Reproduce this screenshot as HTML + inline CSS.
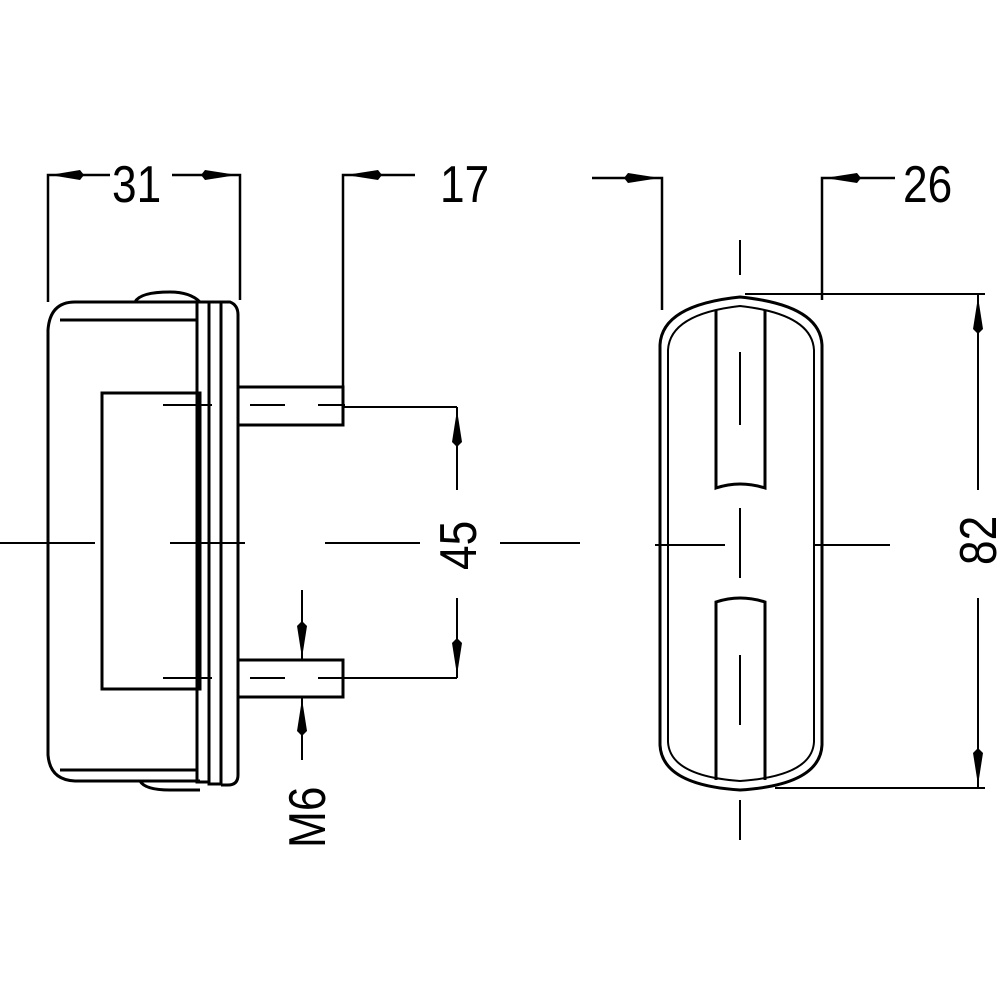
<!DOCTYPE html>
<html><head><style>html,body{margin:0;padding:0;background:#fff}svg{display:block}</style></head><body>
<svg width="1000" height="1000" viewBox="0 0 1000 1000" xmlns="http://www.w3.org/2000/svg">
<g fill="none" stroke="#000" stroke-width="3">
<!-- left view body -->
<path d="M200 302 L75 302 Q50 302 48 330 L48 755 Q50 780 75 781 L200 781"/>
<path d="M60 320 L198 320 M60 770 L198 770"/>
<path d="M135 302 Q140 292 170 292 Q190 292 200 302"/>
<path d="M140 781 Q145 790 170 790 L200 790"/>
<rect x="197" y="302" width="12" height="480"/>
<rect x="209" y="302" width="12" height="482"/>
<path d="M221 302 L230 302 Q238 305 238 315 L238 775 Q238 785 228 785 L221 785"/>
<path d="M102 393 L200 393 L200 689 L102 689 Z"/>
<rect x="238" y="387" width="105" height="38"/>
<rect x="238" y="660" width="105" height="37"/>
<!-- left extension/dim lines -->
<path d="M48 302 L48 175 L110 175 M172 175 L240 175 L240 300" stroke-width="2.5"/>
<path d="M343 387 L343 175 L415 175" stroke-width="2.5"/>
<path d="M343 407 L457 407 M343 678 L457 678 M457 407 L457 490 M457 598 L457 678" stroke-width="2"/>
<path d="M302 590 L302 660 M302 697 L302 760" stroke-width="2"/>
<!-- center line -->
<path d="M0 543 L95 543 M170 543 L245 543 M325 543 L420 543 M500 543 L580 543" stroke-width="2"/>
<path d="M163 405 L212 405 M163 678 L212 678 M250 405 L285 405 M318 405 L345 405 M250 678 L285 678 M318 678 L345 678" stroke-width="2"/>
<!-- right view -->
<path d="M660 345 Q662 305 740 297 Q820 305 822 345 L822 745 Q820 785 740 790 Q662 785 660 745 Z"/>
<path d="M668 350 Q670 314 740 306 Q812 314 814 350 L814 742 Q812 776 740 781 Q670 776 668 742 Z" stroke-width="2"/>
<path d="M716 310 L716 488 Q740 480 765 488 L765 310" />
<path d="M716 780 L716 602 Q740 594 765 602 L765 780"/>
<path d="M740 352 L740 425 M740 655 L740 725 M740 240 L740 275 M740 508 L740 578 M740 800 L740 840" stroke-width="2"/>
<path d="M655 545 L725 545 M815 545 L890 545" stroke-width="2"/>
<path d="M662 310 L662 178 L592 178" stroke-width="2.5"/>
<path d="M822 300 L822 178 L895 178" stroke-width="2.5"/>
<path d="M745 294 L985 294 M775 788 L985 788 M978 294 L978 490 M978 598 L978 788" stroke-width="2"/>
</g>
<g fill="#000">
<polygon points="50,175 80,170 84,175 80,180"/>
<polygon points="237,175 205,170 201,175 205,180"/>
<polygon points="346,175 378,170 382,175 378,180"/>
<polygon points="660,178 628,173 624,178 628,183"/>
<polygon points="825,178 857,173 861,178 857,183"/>
<polygon points="457,410 452,442 457,447 462,442"/>
<polygon points="457,675 452,643 457,638 462,643"/>
<polygon points="302,658 297,626 302,621 307,626"/>
<polygon points="302,699 297,731 302,736 307,731"/>
<polygon points="978,297 973,329 978,334 983,329"/>
<polygon points="978,785 973,753 978,748 983,753"/>
</g>
<g font-family="Liberation Sans, sans-serif" font-size="52" fill="#000">
<text x="112" y="202" transform="translate(112 0) scale(0.85 1) translate(-112 0)">31</text>
<text x="440" y="202" transform="translate(440 0) scale(0.85 1) translate(-440 0)">17</text>
<text x="903" y="202" transform="translate(903 0) scale(0.85 1) translate(-903 0)">26</text>
<text transform="translate(476 570) rotate(-90) scale(0.85 1)">45</text>
<text transform="translate(996 565) rotate(-90) scale(0.85 1)">82</text>
<text transform="translate(325 848) rotate(-90) scale(0.85 1)">M6</text>
</g>
</svg>
</body></html>
